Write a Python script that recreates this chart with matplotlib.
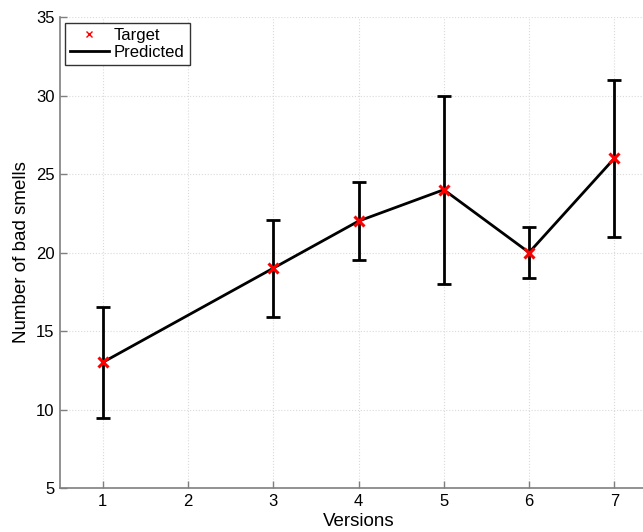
import numpy as np
import matplotlib
matplotlib.use("Agg")
import matplotlib.pyplot as plt

plt.rcParams['font.family'] = ['Liberation Sans', 'DejaVu Sans']

# data
versions = [1, 3, 4, 5, 6, 7]
target = [13, 19, 22, 24, 20, 26]
predicted = [13, 19, 22, 24, 20, 26]
pred_err = [3.53, 3.1, 2.5, 6.0, 1.65, 5.0]
x_ticks = [1, 2, 3, 4, 5, 6, 7]
y_ticks = [5, 10, 15, 20, 25, 30, 35]

fig = plt.figure(figsize=(6.43, 5.32), dpi=100)
ax = fig.add_axes([0.0933, 0.0827, 0.9285, 0.8853])

ax.errorbar(versions, predicted, yerr=pred_err, color='black', linewidth=2,
            elinewidth=2, capsize=5, capthick=2, label='Predicted', zorder=3)
ax.plot(versions, target, linestyle='none', marker='x', color='red',
        markersize=7, markeredgewidth=2.2, zorder=4)
# legend proxies (thin marker like the reference)
t_handle, = ax.plot([], [], linestyle='none', marker='x', color='red',
                    markersize=5, markeredgewidth=1)
p_handle, = ax.plot([], [], color='black', linewidth=2)

ax.set_xlim(0.5, 7.5)
ax.set_ylim(5, 35)
ax.set_xticks(x_ticks)
ax.set_yticks(y_ticks)
ax.tick_params(direction='in', length=5, width=1, color='#7f7f7f',
               labelsize=12, pad=4)

ax.grid(True, linestyle=':', color='#dadada', linewidth=0.8)
ax.set_axisbelow(True)

for s in ['top', 'right']:
    ax.spines[s].set_visible(False)
for s in ['left', 'bottom']:
    ax.spines[s].set_color('#7f7f7f')
    ax.spines[s].set_linewidth(1.2)

ax.set_xlabel('Versions', fontsize=13.5, labelpad=3)
ax.set_ylabel('Number of bad smells', fontsize=13.5, labelpad=4)

leg = ax.legend([t_handle, p_handle], ['Target', 'Predicted'], loc='upper left',
                bbox_to_anchor=(0.008, 0.988), fontsize=12, fancybox=False,
                framealpha=1, edgecolor='#333333', handlelength=2.35,
                borderpad=0.3, labelspacing=0.15, handletextpad=0.3,
                borderaxespad=0)
leg.get_frame().set_linewidth(1)

fig.savefig('out.png', dpi=100)
